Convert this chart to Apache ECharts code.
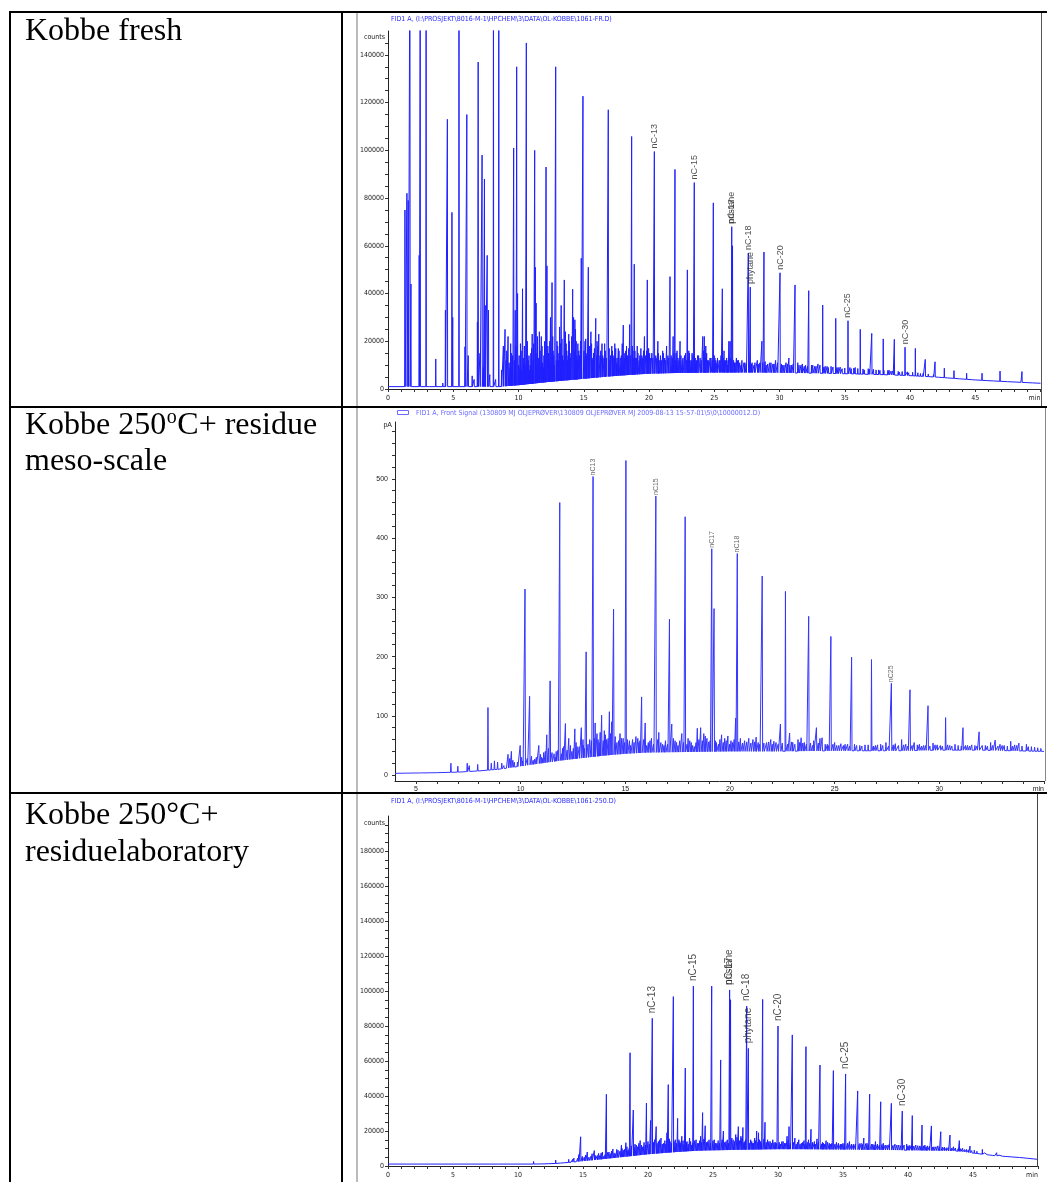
<!DOCTYPE html>
<html><head><meta charset="utf-8">
<script src="https://cdn.jsdelivr.net/npm/echarts@6/dist/echarts.min.js"></script>
<style>html,body{margin:0;padding:0;background:#fff}#c{width:1047px;height:1182px}</style>
</head><body><div id="c"></div>
<script>
// ================= DATA =================
// Row labels (left column)
const rowFresh = 'Kobbe fresh';
const rowMeso1a = 'Kobbe 250', rowMeso1sup = 'o', rowMeso1b = 'C+ residue', rowMeso2 = 'meso-scale';
const rowLab1 = 'Kobbe 250\u00B0C+', rowLab2 = 'residuelaboratory';

// Chart titles
const freshTitle = 'FID1 A, (I:\\PROSJEKT\\8016-M-1\\HPCHEM\\3\\DATA\\OL-KOBBE\\1061-FR.D)';
const mesoTitle = 'FID1 A, Front Signal (130809 MJ OLJEPR\u00D8VER\\130809 OLJEPR\u00D8VER MJ 2009-08-13 15-57-01\\5\\0\\10000012.D)';
const labTitle = 'FID1 A, (I:\\PROSJEKT\\8016-M-1\\HPCHEM\\3\\DATA\\OL-KOBBE\\1061-250.D)';

// Tick labels
const freshXLabels = [0,5,10,15,20,25,30,35,40,45,50];
const freshYLabels = [0,20000,40000,60000,80000,100000,120000,140000];
const mesoXLabels = [5,10,15,20,25,30,35];
const mesoYLabels = [0,100,200,300,400,500];
const labXLabels = [0,5,10,15,20,25,30,35,40,45,50];
const labYLabels = [0,20000,40000,60000,80000,100000,120000,140000,160000,180000];

// ---- Kobbe fresh (counts vs min) ----
const freshBase = [[0,1000],[8.6,1000],[9.3,1300],[10,1600],[11,2200],[12,2800],[13,3300],[14,3800],[15,4300],[16,4800],[17,5300],[18,5700],[19,6100],[20,6400],[22,6700],[25,6900],[28,6900],[30,6800],[33,6600],[35,6400],[38,6000],[40,5600],[42,5000],[43.5,4400],[45,3800],[47,3200],[48.5,2800],[50,2400]];
const freshPeaks = [[1.30,75000],[1.45,82000],[1.55,79000],[1.68,200000],[1.76,44000],
 [2.39,56000],[2.47,200000],[2.92,200000],[3.66,12600],
 [4.40,33000],[4.55,113000],[4.90,74000],[4.96,30000],[5.44,200000],[5.90,17700],
 [6.04,115000],[6.15,14000],[6.85,28000],[6.91,137000],[7.05,15000],
 [7.21,98000],[7.39,88000],[7.45,35000],[7.60,56000],[7.70,33000],
 [8.08,200000],[8.49,200000],[8.84,18000],[8.97,25000],
 [9.63,101000],[9.86,135000],[9.93,40000],[10.31,42000],[10.60,145000],
 [11.24,100000],[11.29,51000],[12.11,93000],[12.18,51600],[12.57,44600],[12.85,135000],
 [13.51,45700],[14.15,41800],[14.81,54800],[14.94,122700],[15.35,51000],[15.92,29600],
 [16.88,117000],[18.03,26800],[18.67,105800],[18.87,52300],[19.87,45700],
 [20.41,99500],[21.61,47100],[21.99,92000],[22.94,49900],[23.47,86500],
 [24.24,22000],[24.93,78000],[25.62,42000],[26.22,20000],[26.34,68000],[26.40,60000],
 [27.61,57000],[27.76,42700],[28.81,57400],[30.04,48700],[31.19,43600],[32.24,41200],
 [33.31,35200],[34.31,29600],[35.25,28600],[36.19,25000],[37.07,23300],[37.95,21000],
 [38.80,20800],[39.62,17500],[40.41,17000],[41.17,12400],[41.92,11400],[42.63,8700],
 [43.37,7700],[44.34,6600],[45.52,6600],[46.90,7500],[48.58,7300]];
const freshGrass = [[3.2,1800],[4.2,2500],[6.45,5500],[6.6,4000],[7.3,9000],[7.8,6000],[8.25,4000],[8.7,8000],
 [9.05,12000],[9.2,22000],[9.35,9000],[9.45,15000],[9.55,14000],[9.75,33000],[10.05,14000],[10.12,9000],
 [10.2,16000],[10.4,11000],[10.68,20000],[10.75,12000],[10.85,8000],[10.95,15000],[11.05,23000],[11.12,12000],
 [11.35,36000],[11.42,15000],[11.5,9000],[11.6,24000],[11.75,22000],[11.85,11000],[11.95,14000],[12.25,18000],
 [12.35,12000],[12.45,30000],[12.65,16000],[12.75,10000],[12.95,20000],[13.05,12000],[13.15,26000],[13.27,35000],
 [13.38,14000],[13.65,19000],[13.75,12000],[13.85,23000],[13.95,15000],[14.22,30000],[14.32,29000],[14.42,20000],
 [14.5,12000],[14.62,16000],[15.1,20000],[15.2,14000],[15.45,18000],[15.55,24000],[15.65,12000],[15.75,15000],
 [16.02,20000],[16.15,23000],[16.25,14000],[16.4,19000],[16.55,13000],[16.65,16000],[17.0,12000],[17.15,18000],
 [17.25,14000],[17.38,19000],[17.5,11000],[17.65,17000],[17.8,13000],[18.15,15000],[18.28,18000],[18.4,12000],
 [18.52,27000],[18.77,16000],[18.97,13000],[19.1,18000],[19.25,12000],[19.45,14000],[19.65,22000],[19.97,17000],
 [20.1,13000],[20.22,15000],[20.52,14000],[20.68,20000],[20.78,12000],[21.05,16000],[21.2,13000],[21.35,18000],
 [21.7,14000],[21.85,22000],[22.08,15000],[22.22,13000],[22.38,20000],[22.55,12000],[22.72,14000],[23.05,16000],
 [23.15,12000],[23.3,15000],[23.6,11000],[23.72,14000],[23.92,13000],[24.12,22000],[24.35,18000],[24.48,12000],
 [24.68,13000],[25.05,13000],[25.2,11000],[25.38,12000],[25.75,16000],[25.88,12000],[26.0,10000],[26.12,20000],
 [26.55,11000],[26.7,13000],[26.85,12000],[27.05,10000],[27.28,11000],[27.9,11000],[28.05,10000],[28.3,12000],
 [28.5,11000],[28.65,20000],[28.98,10000],[29.25,11000],[29.5,10500],[29.7,12000],[30.25,10000],[30.5,11000],
 [30.72,13000],[30.92,10000],[31.4,11000],[31.65,10000],[31.9,9500],[32.45,10000],[32.7,9500],[32.95,10500],
 [33.5,9500],[33.75,9000],[33.95,9500],[34.5,9000],[34.8,8500],[35.5,8500],[35.8,9000],[36.5,8000],[36.8,8500],
 [37.4,8000],[37.7,7800],[38.3,7800],[38.55,7500],[39.2,7000],[39.9,6800],[40.8,6500],[41.5,6000],[42.2,5500],
 [42.9,5000],[43.8,4500],[44.8,4200],[45.9,3800],[46.4,3500],[47.5,3200],[48.9,2800],[49.4,2600]];
const freshGrassFine = [[9.1,16000],[9.28,11000],[9.4,19000],[9.5,8000],[9.68,12000],[9.8,18000],[10.0,10000],
 [10.15,19000],[10.25,8000],[10.36,13000],[10.45,18000],[10.52,10000],[10.8,14000],[10.9,10000],[11.0,17000],
 [11.08,8000],[11.16,19000],[11.45,22000],[11.55,13000],[11.65,16000],[11.8,18000],[11.9,9000],[12.0,20000],
 [12.05,12000],[12.3,15000],[12.4,20000],[12.5,11000],[12.62,22000],[12.7,14000],[12.9,12000],[13.0,18000],
 [13.1,15000],[13.2,19000],[13.33,21000],[13.44,12000],[13.6,24000],[13.7,16000],[13.8,14000],[13.9,20000],
 [14.0,13000],[14.08,22000],[14.28,16000],[14.37,25000],[14.46,14000],[14.55,19000],[14.68,14000],[14.75,20000],
 [15.02,16000],[15.15,21000],[15.25,15000],[15.4,14000],[15.6,19000],[15.7,13000],[15.82,17000],[15.98,14000],
 [16.08,18000],[16.3,16000],[16.45,14000],[16.6,19000],[16.75,13000],[16.95,17000],[17.05,14000],[17.2,16000],
 [17.32,13000],[17.45,17000],[17.55,13000],[17.7,16000],[17.88,14000],[17.95,19000],[18.1,13000],[18.22,16000],
 [18.35,14000],[18.45,17000],[18.6,14000],[18.72,18000],[18.82,13000],[18.92,16000],[19.05,13000],[19.15,15000],
 [19.3,14000],[19.38,17000],[19.52,13000],[19.58,16000],[19.75,14000],[19.82,16000],[19.92,13000],[20.05,15000],
 [20.3,13000],[20.6,13000],[20.72,15000],[20.88,14000],[20.95,12000],[21.1,15000],[21.25,12000],[21.45,14000],
 [21.52,13000],[21.78,13000],[21.92,15000],[22.02,12000],[22.15,16000],[22.3,12000],[22.45,14000],[22.6,13000],
 [22.8,15000],[22.88,12000],[23.0,13000],[23.1,15000],[23.25,12000],[23.38,14000],[23.55,13000],[23.65,12000],
 [23.8,14000],[24.0,12000],[24.18,16000],[24.3,13000],[24.42,15000],[24.55,12000],[24.75,13000],[24.85,12000],
 [25.0,14000],[25.12,12000],[25.25,13000],[25.45,12000],[25.52,14000],[25.68,13000],[25.8,12000],[25.95,13000],
 [26.06,12000],[26.28,13000],[26.48,12000],[26.6,11000],[26.8,12000],[26.95,11000],[27.12,12000],[27.35,11000],
 [27.45,10500],[27.68,11000],[27.85,10500],[28.12,11000],[28.38,10500],[28.72,11000],[28.9,11500],[29.1,10500],
 [29.35,11000],[29.58,10500],[29.85,11000],[30.15,10500],[30.35,10000],[30.6,10500],[30.8,10000],[31.05,10500],
 [31.5,10000],[31.75,10500],[32.0,10000],[32.15,9500],[32.55,10000],[32.8,9500],[33.1,10000],[33.4,9200],
 [33.65,9500],[34.1,9200],[34.4,9000],[34.65,9200],[35.0,8800],[35.4,9000],[35.7,8800],[36.0,8600],[36.4,8400],
 [36.9,8200],[37.2,8300],[37.6,8000],[38.0,7800],[38.4,7900],[38.7,7600],[39.1,7400],[39.4,7300],[39.8,7200],
 [40.2,7000],[40.6,6800],[41.0,6500],[41.4,6300],[41.8,6000],[42.4,5500],[43.0,5000]];
const freshLabels = [[20.41,99500,'nC-13'],[23.47,86500,'nC-15'],[26.34,68000,'pristane'],[26.34,68000,'nC-17'],
 [27.61,57000,'nC-18'],[27.76,42700,'phytane'],[30.04,48700,'nC-20'],[35.25,28600,'nC-25'],[39.62,17500,'nC-30']];

// ---- Kobbe 250C+ residue meso-scale (pA vs min) ----
const mesoBase = [[4,3],[6,4],[7,5],[8,7],[9,10],[10,15],[11,20],[12,25],[13,29],[14,33],[15,36],[16,38],[18,39],[20,40],[22,40],[25,41],[28,41],[30,42],[32,42],[35,40]];
const mesoPeaks = [[8.44,114],[10.21,314],[10.43,133],[11.41,159],[11.87,460],[12.14,87],[13.13,208],[13.46,504],
 [13.87,101],[14.24,107],[14.44,280],[15.03,531],[15.78,132],[15.95,88],[16.46,471],[17.11,263],[17.22,86],
 [17.86,436],[18.44,79],[19.13,382],[19.24,281],[20.27,96],[20.35,374],[21.54,336],[22.41,86],[22.65,310],
 [23.76,268],[24.13,80],[24.82,234],[25.81,199],[26.76,195],[27.71,155],[28.6,144],[29.46,117],[30.3,97],
 [31.13,80],[31.9,73],[32.67,59],[33.41,57],[34.16,52]];
const mesoGrass = [[5.2,5],[6.0,6],[6.67,20],[7.0,15],[7.45,20],[7.55,16],[7.95,18],[8.6,20],[8.75,24],[8.9,22],
 [9.1,20],[9.2,16],[9.40,35],[9.48,28],[9.56,40],[9.7,22],[9.98,50],[10.1,24],[10.6,25],[10.75,30],[10.87,50],
 [11.0,30],[11.1,38],[11.25,68],[11.33,45],[11.6,36],[11.7,40],[12.0,45],[12.3,62],[12.45,40],[12.59,78],
 [12.7,48],[12.9,80],[13.0,50],[13.3,60],[13.56,88],[13.65,70],[13.75,55],[14.0,75],[14.1,60],[14.35,90],
 [14.6,55],[14.75,70],[14.9,62],[15.2,58],[15.35,60],[15.51,65],[15.65,55],[16.1,55],[16.25,62],[16.6,72],
 [16.7,55],[16.85,50],[17.3,62],[17.45,55],[17.6,58],[17.7,70],[18.0,62],[18.15,55],[18.3,48],[18.6,80],
 [18.75,70],[18.9,62],[19.35,55],[19.6,68],[19.75,62],[19.9,66],[20.05,58],[20.5,62],[20.7,58],[20.9,62],
 [21.1,60],[21.25,64],[21.35,55],[21.75,55],[21.95,60],[22.1,57],[22.85,71],[23.0,55],[23.25,60],[23.4,63],
 [23.55,55],[24.0,58],[24.3,62],[24.4,63],[24.55,52],[25.0,55],[25.2,50],[25.5,52],[25.95,52],[26.2,50],
 [26.45,51],[26.95,50],[27.2,52],[27.45,55],[27.9,53],[28.2,60],[28.4,52],[28.8,55],[29.05,52],[29.25,50],
 [29.7,54],[29.9,51],[30.5,50],[30.75,52],[31.35,50],[31.55,51],[32.2,50],[32.45,55],[32.9,52],[33.1,50],
 [33.6,51],[33.8,54],[34.4,48],[34.7,46]];
const mesoGrassFine = [[9.3,14],[9.63,25],[9.85,22],[10.05,30],[10.32,28],[10.52,32],[10.67,27],[10.95,35],[11.05,28],
 [11.18,40],[11.5,38],[11.65,30],[11.78,42],[11.95,36],[12.05,48],[12.22,42],[12.38,50],[12.52,45],[12.65,55],
 [12.8,48],[12.98,60],[13.05,45],[13.22,52],[13.38,58],[13.52,62],[13.7,60],[13.8,72],[13.95,58],[14.05,68],
 [14.18,62],[14.3,70],[14.52,65],[14.68,58],[14.82,62],[14.97,55],[15.1,60],[15.25,50],[15.42,55],[15.6,62],
 [15.7,58],[15.88,60],[16.02,50],[16.18,58],[16.35,52],[16.55,60],[16.78,52],[16.92,58],[17.02,52],[17.38,58],
 [17.52,50],[17.78,55],[17.95,52],[18.08,58],[18.22,50],[18.38,55],[18.52,60],[18.68,58],[18.82,66],[18.98,56],
 [19.05,58],[19.3,58],[19.45,52],[19.52,60],[19.68,55],[19.82,58],[19.98,52],[20.12,55],[20.2,60],[20.42,56],
 [20.6,54],[20.8,56],[21.0,54],[21.18,56],[21.42,52],[21.62,54],[21.85,56],[22.02,52],[22.2,55],[22.3,52],
 [22.5,54],[22.75,52],[22.95,56],[23.1,52],[23.32,55],[23.48,54],[23.65,52],[23.85,54],[23.95,50],[24.22,54],
 [24.65,52],[24.72,50],[24.92,52],[25.1,50],[25.3,53],[25.42,50],[25.62,52],[25.72,49],[26.05,50],[26.3,49],
 [26.6,51],[26.85,49],[27.05,51],[27.3,50],[27.58,49],[27.8,51],[28.05,50],[28.3,51],[28.5,49],[28.7,50],
 [28.95,51],[29.15,49],[29.35,50],[29.55,49],[29.8,51],[30.05,50],[30.15,49],[30.4,51],[30.6,49],[30.9,50],
 [31.05,49],[31.25,50],[31.45,49],[31.7,50],[31.8,49],[32.05,50],[32.3,49],[32.55,50],[32.8,49],[33.0,50],
 [33.25,49],[33.5,49],[33.7,50],[33.95,49],[34.25,48],[34.55,47],[34.85,45]];
const mesoLabels = [[13.46,504,'nC13'],[16.46,471,'nC15'],[19.13,382,'nC17'],[20.35,374,'nC18'],[27.71,155,'nC25']];

// ---- Kobbe 250C+ residue laboratory (counts vs min) ----
const labBase = [[0,1100],[11,1100],[12,1200],[13,1500],[14,2100],[15,2800],[16,3500],[17,4300],[18,5100],[19,5900],[20,6700],[21,7300],[22,7900],[23,8400],[24,8800],[26,9100],[28,9400],[30,9600],[32,9600],[35,9400],[38,9200],[40,9000],[42,8800],[43.7,8600],[45,7400],[46.7,5900],[48.7,4800],[50,3800]];
const labPeaks = [[14.82,16700],[16.8,41000],[18.62,64700],[18.87,32000],[19.88,36000],[20.33,84400],[21.56,46500],
 [21.95,96800],[22.28,27200],[22.87,56000],[23.49,102800],[24.2,30500],[24.9,102800],[25.59,60600],[26.28,100600],
 [26.35,95000],[26.95,22500],[27.59,91400],[27.72,67200],[28.36,20000],[28.82,95200],[30.0,80000],[30.85,22500],
 [31.1,74900],[32.15,68200],[32.54,21000],[33.23,57700],[34.26,54500],[35.2,52600],[36.13,42900],[37.05,41100],
 [37.9,36700],[38.72,35800],[39.56,31400],[40.33,28800],[41.08,23400],[41.8,22900],[42.52,19600],[43.23,17700],
 [43.95,14500],[44.77,11400],[45.72,9500],[46.82,7600],[48.1,6300],[48.87,5100]];
const labGrass = [[8.5,1800],[11.2,2600],[11.8,1800],[12.4,2200],[12.9,3400],[13.3,2500],[13.6,3000],[13.9,3800],
 [14.1,3200],[14.3,4500],[14.5,3500],[14.68,6500],[15.1,5000],[15.33,8000],[15.6,5500],[15.87,8800],[16.1,6000],
 [16.4,7500],[16.6,5500],[17.0,8000],[17.3,9700],[17.5,7000],[17.7,9000],[17.96,12000],[18.1,9000],[18.3,13300],
 [18.45,9000],[19.1,12000],[19.4,14500],[19.6,11000],[20.2,26000],[20.5,15000],[20.63,22500],[20.8,14000],
 [21.0,16000],[21.2,13000],[21.46,19000],[21.7,14000],[22.1,15000],[22.45,14000],[22.6,17000],[23.0,14000],
 [23.2,16000],[23.35,12000],[23.7,15000],[23.9,13000],[24.05,17000],[24.4,23000],[24.6,14000],[25.1,15000],
 [25.3,13000],[25.8,20000],[26.0,14000],[26.55,15000],[26.75,18000],[27.15,17000],[27.3,22000],[27.45,14000],
 [27.9,15000],[28.05,13000],[28.2,16000],[28.5,19000],[28.65,14000],[29.0,25000],[29.2,15000],[29.4,14000],
 [29.6,15000],[29.8,13500],[30.3,14000],[30.5,13000],[30.7,17000],[31.3,16000],[31.6,15000],[31.8,13000],
 [32.0,14500],[32.35,15000],[32.8,14000],[33.0,15500],[33.5,13000],[33.7,14500],[33.95,13000],[34.5,13500],
 [34.8,12500],[35.0,13000],[35.5,14000],[35.8,12500],[36.4,13000],[36.6,16000],[36.85,13000],[37.3,12500],
 [37.5,14000],[38.1,13000],[38.4,12000],[39.0,12500],[39.3,12000],[39.9,12500],[40.1,11800],[40.6,12000],
 [40.9,11500],[41.3,12000],[41.5,11500],[42.0,11000],[42.3,11500],[42.8,10800],[43.5,11000],[44.2,10200],
 [44.5,9500],[45.1,9000],[46.3,6500],[47.5,6000],[49.2,4600]];
const labGrassFine = [[14.0,3000],[14.2,3800],[14.4,3200],[14.6,4500],[14.95,5500],[15.2,6200],[15.45,5000],
 [15.7,7000],[15.95,6000],[16.2,7200],[16.3,6000],[16.5,8000],[16.7,6500],[16.9,7800],[17.1,7000],[17.2,8500],
 [17.4,7500],[17.6,9500],[17.85,8500],[18.0,10000],[18.2,9500],[18.38,11000],[18.55,10000],[18.72,11500],
 [18.95,10500],[19.0,12500],[19.2,11000],[19.3,13000],[19.5,12000],[19.7,13500],[19.8,12000],[20.0,14000],
 [20.1,12500],[20.42,13500],[20.7,13000],[20.9,15000],[21.1,12500],[21.3,14500],[21.38,12500],[21.65,15500],
 [21.8,13000],[22.0,14000],[22.2,13000],[22.38,15000],[22.52,13000],[22.7,14500],[22.78,12500],[22.95,13500],
 [23.1,12500],[23.28,14000],[23.42,13000],[23.6,14500],[23.8,13000],[23.98,14500],[24.12,13500],[24.3,15500],
 [24.5,13500],[24.7,15000],[24.8,13000],[25.0,14500],[25.2,13000],[25.4,14500],[25.5,13000],[25.7,15000],
 [25.9,13500],[26.1,15000],[26.2,13000],[26.45,16000],[26.65,14000],[26.85,16500],[27.05,14500],[27.22,16000],
 [27.38,13500],[27.5,15000],[27.8,13000],[27.98,14000],[28.12,13000],[28.28,14500],[28.45,13500],[28.58,15000],
 [28.72,13000],[28.92,15500],[29.1,13500],[29.3,14000],[29.5,13000],[29.7,13500],[29.9,13000],[30.1,13500],
 [30.2,12500],[30.4,14000],[30.6,13000],[30.78,14500],[30.95,13000],[31.2,13500],[31.4,12500],[31.5,13500],
 [31.7,12500],[31.9,13500],[32.08,12500],[32.25,13500],[32.45,13000],[32.65,13500],[32.9,12500],[33.1,13500],
 [33.35,12500],[33.42,13500],[33.6,12500],[33.82,13500],[34.05,12500],[34.15,13000],[34.38,12500],[34.65,13000],
 [34.9,12500],[35.1,12500],[35.35,13000],[35.65,12500],[35.95,12500],[36.25,12800],[36.5,12300],[36.75,12800],
 [36.95,12200],[37.2,12500],[37.4,12000],[37.65,12500],[37.8,12000],[38.0,12300],[38.25,12000],[38.55,12300],
 [38.85,11800],[39.15,12000],[39.45,11600],[39.7,12000],[40.0,11500],[40.25,11800],[40.45,11400],[40.75,11600],
 [41.0,11200],[41.2,11500],[41.4,11000],[41.65,11300],[41.9,10800],[42.15,11000],[42.4,10600],[42.65,10800],
 [42.95,10400],[43.1,10600],[43.35,10200],[43.65,10300],[43.85,9800],[44.05,9900],[44.35,9400],[44.65,9200],
 [44.9,8800],[45.3,8400],[45.5,8000],[45.9,7500],[46.1,7000],[46.5,6600],[46.7,6300],[47.0,6200],[47.3,5900],
 [47.7,5600],[48.0,5400],[48.4,5100],[48.6,5000],[49.0,4700],[49.4,4400],[49.7,4100]];
const labLabels = [[20.33,84400,'nC-13'],[23.49,102800,'nC-15'],[26.28,100600,'pristane'],[26.28,100600,'nC-17'],
 [27.59,91400,'nC-18'],[27.72,67200,'phytane'],[30.0,80000,'nC-20'],[35.2,52600,'nC-25'],[39.56,31400,'nC-30']];

// ================= HELPERS =================
const NARROW = '"Liberation Sans Narrow","Arial Narrow","DejaVu Sans Condensed",sans-serif';
const SANS = '"Liberation Sans",Arial,sans-serif';
const SERIF = '"Liberation Serif","Times New Roman",serif';

function baseAt(knots, t){
  for (let i = 1; i < knots.length; i++) {
    if (t <= knots[i][0]) {
      const a = knots[i-1], b = knots[i];
      return a[1] + (b[1]-a[1]) * (t-a[0]) / (b[0]-a[0]);
    }
  }
  return knots[knots.length-1][1];
}
function buildTrace(base, lists, w){
  const pts = base.map(p => [p[0], p[1]]);
  lists.forEach(list => list.forEach(p => {
    const b = baseAt(base, p[0]);
    pts.push([p[0]-w, b], [p[0], p[1]], [p[0]+w, b]);
  }));
  pts.sort((a,b) => a[0]-b[0]);
  return pts;
}
function range(a, b, s){ const r=[]; for (let v=a; v<=b+1e-9; v+=s) r.push(+v.toFixed(6)); return r; }

function xAx(gi, min, max, labels, ticks, margin, fam, fs){
  return {type:'value', gridIndex:gi, min, max, splitLine:{show:false},
    axisLine:{show:true, onZero:false, lineStyle:{color:'#222', width:1}},
    axisTick:{show:true, length:3, customValues:ticks, lineStyle:{color:'#333', width:1}},
    minorTick:{show:false},
    axisLabel:{show:true, customValues:labels, margin, fontSize:fs, fontFamily:fam, color:'#222',
      formatter: v => (Math.abs(v-max) < 1e-6 ? 'min' : String(v)), alignMaxLabel:'right'}};
}
function yAx(gi, min, max, labels, ticks, margin, fam, fs, name, gap){
  return {type:'value', gridIndex:gi, min, max, splitLine:{show:false},
    name, nameLocation:'end', nameGap:gap,
    nameTextStyle:{align:'right', verticalAlign:'middle', padding:[0,3,0,0], fontSize:fs, fontFamily:fam, color:'#222'},
    axisLine:{show:true, onZero:false, lineStyle:{color:'#222', width:1}},
    axisTick:{show:true, length:3, customValues:ticks, lineStyle:{color:'#333', width:1}},
    minorTick:{show:false},
    axisLabel:{show:true, customValues:labels, margin, fontSize:fs, fontFamily:fam, color:'#222',
      formatter: v => String(v)}};
}
function traceSeries(gi, data, color){
  return {type:'line', xAxisIndex:gi, yAxisIndex:gi, data, showSymbol:false, symbol:'none',
    clip:true, animation:false, silent:true,
    lineStyle:{color, width:1, join:'bevel'}, z:2};
}
function labelSeries(gi, labs, fs, dist, color){
  return {type:'scatter', xAxisIndex:gi, yAxisIndex:gi, symbolSize:0.1, silent:true, animation:false,
    itemStyle:{color:'rgba(0,0,0,0)'},
    data: labs.map(d => ({value:[d[0], d[1]], label:{formatter:d[2]}})),
    label:{show:true, position:'top', distance:dist, rotate:90, align:'left', verticalAlign:'middle',
      fontSize:fs, fontFamily:SANS, color}, z:5};
}

// ================= LAYOUT / TEXT MEASURE =================
const mc = document.createElement('canvas').getContext('2d');
mc.font = '32px ' + SERIF;
const wA = mc.measureText(rowMeso1a).width;
mc.font = '20px ' + SERIF;
const wS = mc.measureText(rowMeso1sup).width;

function tline(x1,y1,x2,y2,w,c){ return {type:'line', silent:true, shape:{x1,y1,x2,y2}, style:{stroke:c, lineWidth:w}, z:10}; }
function txt(x,y,text,font,fill,align,va){ return {type:'text', silent:true, x, y, style:{text, font, fill, align:align||'left', verticalAlign:va||'middle'}, z:10}; }

const graphics = [
  tline(9,12,1047,12,2,'#000'),
  tline(10,11,10,1182,2,'#000'),
  tline(342,11,342,1182,2,'#000'),
  tline(9,407,1047,407,2,'#000'),
  tline(9,793,1047,793,2,'#000'),
  tline(357,13,357,406,1,'#777'),
  tline(1041.5,13,1041.5,406,1,'#555'),
  tline(357,408,357,792,1,'#777'),
  tline(1045.5,408,1045.5,781,1,'#888'),
  tline(357,794,357,1182,1,'#777'),
  tline(1037.5,794,1037.5,1167,1,'#444'),
  txt(25,32,rowFresh,'32px '+SERIF,'#000'),
  txt(25,426,rowMeso1a,'32px '+SERIF,'#000'),
  txt(25+wA+0.5,418,rowMeso1sup,'20px '+SERIF,'#000'),
  txt(25+wA+wS+1,426,rowMeso1b,'32px '+SERIF,'#000'),
  txt(25,462,rowMeso2,'32px '+SERIF,'#000'),
  txt(25,816,rowLab1,'32px '+SERIF,'#000'),
  txt(25,853,rowLab2,'32px '+SERIF,'#000'),
  txt(391,19.5,freshTitle,'7px '+NARROW,'#2a2aff'),
  {type:'rect', silent:true, shape:{x:397.5,y:410.5,width:11,height:4}, style:{fill:'none', stroke:'#6b6bff', lineWidth:1}, z:10},
  txt(416,413,mesoTitle,'7px '+NARROW,'#6b6bff'),
  txt(391,801.5,labTitle,'7px '+NARROW,'#2a2aff')
];

// ================= CHART =================
const chart = echarts.init(document.getElementById('c'), null, {renderer:'canvas', width:1047, height:1182});
chart.setOption({
  animation:false,
  backgroundColor:'#fff',
  grid:[
    {left:388, top:31, width:652.5, height:358},
    {left:395, top:422, width:651, height:359},
    {left:388, top:816, width:650, height:350}
  ],
  xAxis:[
    xAx(0, 0, 50, freshXLabels, range(0,50,1), 6, NARROW, 7),
    xAx(1, 4, 35, mesoXLabels, range(5,35,1), 5, SANS, 7),
    xAx(2, 0, 50, labXLabels, range(0,50,1), 6, NARROW, 7)
  ],
  yAxis:[
    yAx(0, 0, 150000, freshYLabels, range(0,145000,5000), 4, NARROW, 7, 'counts', -6),
    yAx(1, -10, 596, mesoYLabels, range(0,580,20), 7, SANS, 7, 'pA', -3),
    yAx(2, 0, 200000, labYLabels, range(0,195000,5000), 4, NARROW, 7, 'counts', -7)
  ],
  series:[
    traceSeries(0, buildTrace(freshBase, [freshPeaks, freshGrass, freshGrassFine], 0.018), '#2020ff'),
    traceSeries(1, buildTrace(mesoBase, [mesoPeaks, mesoGrass, mesoGrassFine], 0.02), '#3535ff'),
    traceSeries(2, buildTrace(labBase, [labPeaks, labGrass, labGrassFine], 0.018), '#2020ff'),
    labelSeries(0, freshLabels, 9, 3, '#222'),
    labelSeries(1, mesoLabels, 7, 1, '#444'),
    labelSeries(2, labLabels, 10, 5, '#222')
  ],
  graphic: graphics
});
</script>
</body></html>
